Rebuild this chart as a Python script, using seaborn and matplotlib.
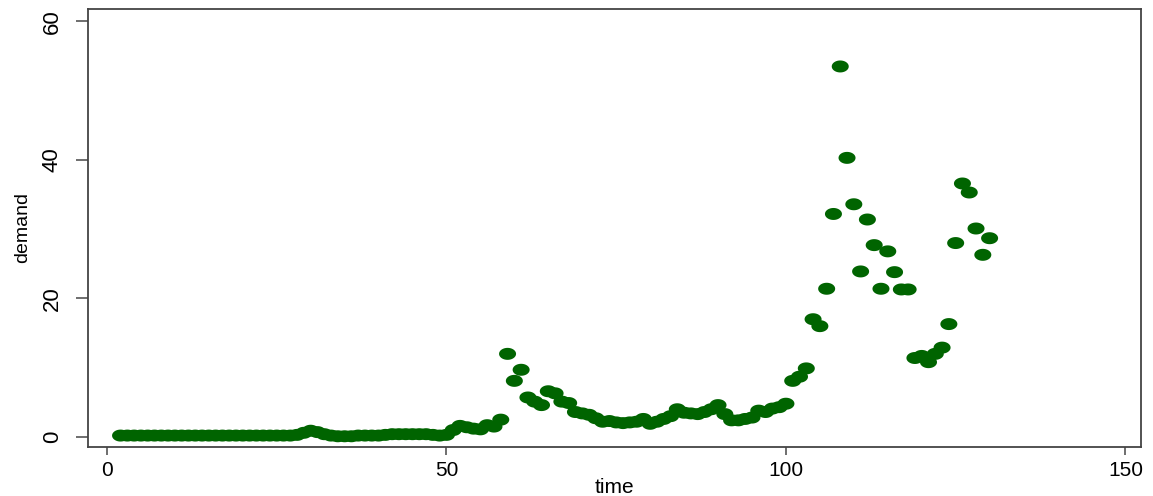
import matplotlib
matplotlib.use("Agg")
import matplotlib.pyplot as plt
import numpy as np
import pandas as pd
import seaborn as sns
from matplotlib.path import Path

time = list(range(2, 131))
demand = [
    0.2, 0.2, 0.2, 0.2, 0.2, 0.2, 0.2, 0.2, 0.2, 0.2,      # 2-11
    0.2, 0.2, 0.2, 0.2, 0.2, 0.2, 0.2, 0.2, 0.2, 0.2,      # 12-21
    0.2, 0.2, 0.2, 0.2, 0.2, 0.2, 0.3, 0.6, 0.9, 0.7,      # 22-31
    0.4, 0.2, 0.1, 0.1, 0.1, 0.2, 0.2, 0.2, 0.2, 0.3,      # 32-41
    0.4, 0.4, 0.4, 0.4, 0.4, 0.4, 0.3, 0.2, 0.3, 1.0,      # 42-51
    1.6, 1.4, 1.2, 1.1, 1.7, 1.5, 2.5, 12.0, 8.1, 9.7,     # 52-61
    5.7, 5.1, 4.6, 6.6, 6.3, 5.1, 4.9, 3.6, 3.4, 3.2,      # 62-71
    2.7, 2.2, 2.3, 2.1, 2.0, 2.1, 2.2, 2.6, 1.9, 2.2,      # 72-81
    2.6, 3.0, 4.0, 3.5, 3.4, 3.3, 3.6, 4.0, 4.6, 3.3,      # 82-91
    2.4, 2.4, 2.6, 2.8, 3.8, 3.6, 4.1, 4.3, 4.8, 8.1,      # 92-101
    8.7, 9.9, 17.0, 16.0, 21.4, 32.2, 53.5, 40.3, 33.6, 23.9,  # 102-111
    31.4, 27.7, 21.4, 26.8, 23.8, 21.3, 21.3, 11.4, 11.7, 10.8,  # 112-121
    12.0, 12.9, 16.3, 28.0, 36.6, 35.3, 30.1, 26.3, 28.7,  # 122-130
]
x_ticks = [0, 50, 100, 150]
y_ticks = [0, 20, 40, 60]

df = pd.DataFrame({"time": time, "demand": demand})

sns.set_style("ticks")
plt.rcParams["font.family"] = ["Liberation Sans", "DejaVu Sans"]

# the original graph is stretched sideways, so markers are ellipses
theta = np.linspace(0, 2 * np.pi, 60)
ellipse = Path(np.column_stack([1.42 * np.cos(theta), np.sin(theta)]), closed=True)

fig = plt.figure(figsize=(11.53, 4.96), dpi=100)
ax = fig.add_axes([0.0763, 0.0988, 0.9133, 0.8831])

sns.scatterplot(data=df, x="time", y="demand", ax=ax, marker=ellipse,
                s=150, color="#006400", edgecolor="none", linewidth=0)

ax.set_xlim(-2.8, 152.3)
ax.set_ylim(-1.45, 61.8)
ax.set_xticks(x_ticks)
ax.set_yticks(y_ticks)
ax.tick_params(axis="x", labelsize=15, length=6, width=1.2, color="#555555",
               labelcolor="black", pad=4)
ax.tick_params(axis="y", labelsize=16, length=9, width=1.2, color="#555555",
               labelcolor="black", pad=9)
for lab in ax.get_yticklabels():
    lab.set_rotation(90)
    lab.set_va("center")

ax.set_xlabel("time", fontsize=15, labelpad=-1, color="black")
ax.set_ylabel("demand", fontsize=14, labelpad=8, color="black")

for side in ["left", "bottom", "right", "top"]:
    ax.spines[side].set_color("#444444")
    ax.spines[side].set_linewidth(1.3)

fig.savefig("out.png", dpi=100, facecolor="white")
plt.close(fig)
